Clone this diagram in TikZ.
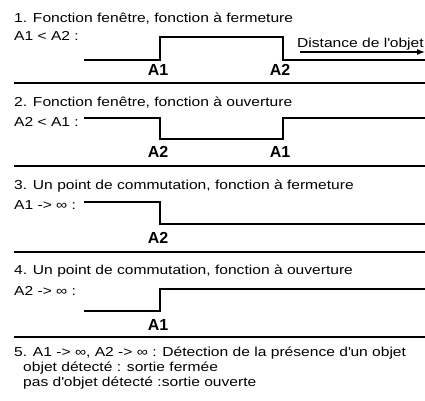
\documentclass[tikz,border=0pt]{standalone}
\usepackage{fontspec}
\setmainfont{Liberation Sans}[FakeStretch=1.2]
\newfontfamily\lblfont{Liberation Sans}
\usetikzlibrary{arrows.meta}

\tikzset{
	txt/.style={anchor=base west, inner sep=0pt, font=\fontsize{13bp}{15bp}\selectfont},
	lbl/.style={anchor=base, inner sep=0pt, font=\fontsize{16bp}{18bp}\lblfont\bfseries},
	signal/.style={line width=2.8bp, line join=miter},
	sepline/.style={line width=1.8bp},
	distarrow/.style={line width=1.2bp, -{Latex[length=8bp,width=6bp]}}
}
\newcommand{\apos}{\textquotesingle}

\begin{document}
\begin{tikzpicture}[x=1bp,y=-1bp]
	\useasboundingbox (0,0) rectangle (425,401);
	% 1. fenetre, fermeture
	\node[txt] (t1) at (14,22.5) {1. Fonction fenêtre, fonction à fermeture};
	\node[txt] (c1) at (14,40.5) {A1 < A2 :};
	\coordinate (w1a) at (84,60);
	\coordinate (w1b) at (160,60);
	\coordinate (w1c) at (160,37);
	\coordinate (w1d) at (283,37);
	\coordinate (w1e) at (283,60);
	\coordinate (w1f) at (425,60);
	\draw[signal] (w1a) -- (w1b) -- (w1c) -- (w1d) -- (w1e) -- (w1f);
	\node[lbl] (a1s1) at (158,75.5) {A1};
	\node[lbl] (a2s1) at (280,75.5) {A2};
	\node[txt] (dist) at (297,47) {Distance de l\apos objet};
	\coordinate (d1) at (300,52);
	\coordinate (d2) at (425,52);
	\draw[distarrow] (d1) -- (d2);
	\coordinate (sep1a) at (14,83);
	\coordinate (sep1b) at (425,83);
	\draw[sepline] (sep1a) -- (sep1b);

	% 2. fenetre, ouverture
	\node[txt] (t2) at (14,106.5) {2. Fonction fenêtre, fonction à ouverture};
	\node[txt] (c2) at (14,126.5) {A2 < A1 :};
	\coordinate (w2a) at (84,118);
	\coordinate (w2b) at (160,118);
	\coordinate (w2c) at (160,139);
	\coordinate (w2d) at (283,139);
	\coordinate (w2e) at (283,118);
	\coordinate (w2f) at (425,118);
	\draw[signal] (w2a) -- (w2b) -- (w2c) -- (w2d) -- (w2e) -- (w2f);
	\node[lbl] (a2s2) at (158,157) {A2};
	\node[lbl] (a1s2) at (280,157) {A1};
	\coordinate (sep2a) at (14,166);
	\coordinate (sep2b) at (425,166);
	\draw[sepline] (sep2a) -- (sep2b);

	% 3. un point, fermeture
	\node[txt] (t3) at (14,189) {3. Un point de commutation, fonction à fermeture};
	\node[txt] (c3) at (14,209) {A1 -> ∞ :};
	\coordinate (w3a) at (84,202);
	\coordinate (w3b) at (160,202);
	\coordinate (w3c) at (160,224);
	\coordinate (w3d) at (425,224);
	\draw[signal] (w3a) -- (w3b) -- (w3c) -- (w3d);
	\node[lbl] (a2s3) at (158,243) {A2};
	\coordinate (sep3a) at (14,252);
	\coordinate (sep3b) at (425,252);
	\draw[sepline] (sep3a) -- (sep3b);

	% 4. un point, ouverture
	\node[txt] (t4) at (14,274) {4. Un point de commutation, fonction à ouverture};
	\node[txt] (c4) at (14,295) {A2 -> ∞ :};
	\coordinate (w4a) at (84,311);
	\coordinate (w4b) at (160,311);
	\coordinate (w4c) at (160,289);
	\coordinate (w4d) at (425,289);
	\draw[signal] (w4a) -- (w4b) -- (w4c) -- (w4d);
	\node[lbl] (a1s4) at (158,330) {A1};
	\coordinate (sep4a) at (14,337);
	\coordinate (sep4b) at (425,337);
	\draw[sepline] (sep4a) -- (sep4b);

	% 5. detection
	\node[txt] (t5) at (14,356) {5. A1 -> ∞, A2 -> ∞ : Détection de la présence d\apos un objet};
	\node[txt] (l5a) at (23,371.5) {objet détecté : sortie fermée};
	\node[txt] (l5b) at (23,386.5) {pas d\apos objet détecté :sortie ouverte};
\end{tikzpicture}
\end{document}
